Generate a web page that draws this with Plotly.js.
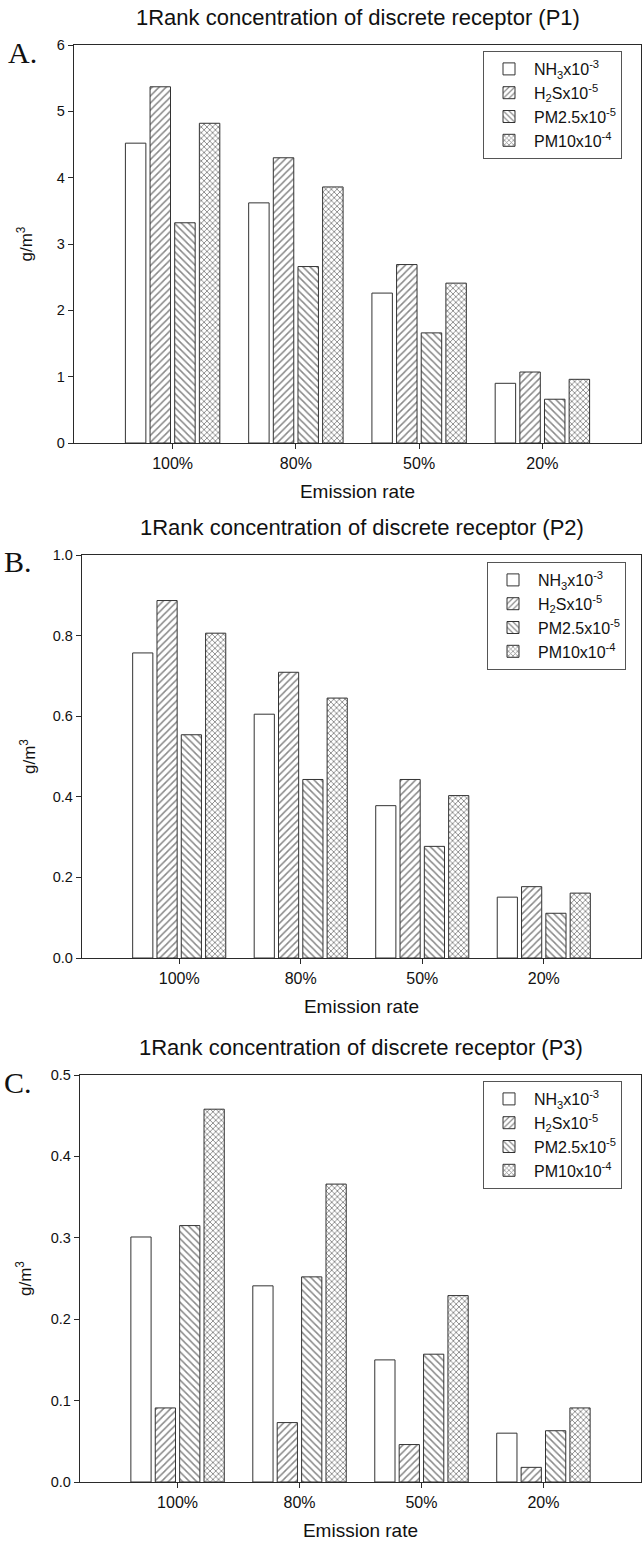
<!DOCTYPE html>
<html>
<head>
<meta charset="utf-8">
<script src="https://cdn.plot.ly/plotly-3.0.1.min.js"></script>
<style>html,body{margin:0;padding:0;background:#fff;}#chart{width:642px;height:1549px;}</style>
</head>
<body>
<div id="chart"></div>
<script>
// ---- data ----
const categories = ['100%', '80%', '50%', '20%'];
const seriesNames = ['NH<sub>3</sub>x10<sup>-3</sup>', 'H<sub>2</sub>Sx10<sup>-5</sup>', 'PM2.5x10<sup>-5</sup>', 'PM10x10<sup>-4</sup>'];
const panelTitles = ['1Rank concentration of discrete receptor (P1)', '1Rank concentration of discrete receptor (P2)', '1Rank concentration of discrete receptor (P3)'];
const panelLetters = ['A.', 'B.', 'C.'];

const p1NH3  = [4.52, 3.62, 2.26, 0.90];
const p1H2S  = [5.37, 4.30, 2.69, 1.07];
const p1PM25 = [3.32, 2.66, 1.66, 0.66];
const p1PM10 = [4.82, 3.86, 2.41, 0.96];

const p2NH3  = [0.757, 0.605, 0.378, 0.151];
const p2H2S  = [0.887, 0.709, 0.443, 0.177];
const p2PM25 = [0.554, 0.443, 0.277, 0.111];
const p2PM10 = [0.806, 0.645, 0.403, 0.161];

const p3NH3  = [0.301, 0.241, 0.150, 0.060];
const p3H2S  = [0.091, 0.073, 0.046, 0.018];
const p3PM25 = [0.315, 0.252, 0.157, 0.063];
const p3PM10 = [0.458, 0.366, 0.229, 0.091];

const panelData = [
  [p1NH3, p1H2S, p1PM25, p1PM10],
  [p2NH3, p2H2S, p2PM25, p2PM10],
  [p3NH3, p3H2S, p3PM25, p3PM10]
];

// ---- styling ----
const W = 642, H = 1549;
const FONT = '"Liberation Sans", Arial, Helvetica, sans-serif';
const SERIF = '"Liberation Serif", "Times New Roman", serif';
const patterns = ['', '/', '\\', 'x'];
const patSizes = [6, 5, 5, 4];
const patSolid = [0.2, 0.3, 0.3, 0.4];
const lineCol = '#2a2a2a';

// plot boxes in pixels [left, right, top, bottom]
const boxes = [
  [74, 641, 45, 443],
  [82, 641, 555, 958],
  [80, 641, 1075, 1482]
];
const yRanges = [[0, 6], [0, 1], [0, 0.5]];
const yDticks = [1, 0.2, 0.1];
const yFormats = ['d', '.1f', '.1f'];
const yStandoff = [19, 12, 14];
const legendPos = [[483, 51], [487, 562], [483, 1081]];

const traces = [];
panelData.forEach((series, p) => {
  const sfx = p === 0 ? '' : String(p + 1);
  series.forEach((vals, s) => {
    traces.push({
      type: 'bar',
      x: categories,
      y: vals,
      name: seriesNames[s],
      xaxis: 'x' + sfx,
      yaxis: 'y' + sfx,
      legend: 'legend' + sfx,
      marker: {
        color: '#ffffff',
        line: {color: '#333333', width: 1},
        pattern: {shape: patterns[s], fgcolor: '#111', bgcolor: '#ffffff', size: patSizes[s], solidity: patSolid[s], fillmode: 'overlay'}
      },
      hoverinfo: 'x+y'
    });
  });
});

const layout = {
  width: W, height: H,
  margin: {l: 0, r: 0, t: 0, b: 0},
  paper_bgcolor: '#ffffff', plot_bgcolor: '#ffffff',
  font: {family: FONT, color: '#111', size: 14},
  barmode: 'group', bargap: 0.2, bargroupgap: 0.17,
  annotations: []
};

boxes.forEach((b, p) => {
  const sfx = p === 0 ? '' : String(p + 1);
  const xd = [b[0] / W, b[1] / W];
  const yd = [1 - b[3] / H, 1 - b[2] / H];
  layout['xaxis' + sfx] = {
    domain: xd, anchor: 'y' + sfx, type: 'category', range: [-0.8, 3.8],
    showline: true, mirror: true, linecolor: lineCol, linewidth: 1.3,
    ticks: 'outside', ticklen: 5, tickcolor: lineCol, showgrid: false, zeroline: false,
    tickfont: {size: 16, family: FONT, color: '#111'},
    title: {text: 'Emission rate', font: {size: 19, family: FONT, color: '#111'}, standoff: 14},
    automargin: false, fixedrange: true
  };
  layout['yaxis' + sfx] = {
    domain: yd, anchor: 'x' + sfx, range: yRanges[p], dtick: yDticks[p], tick0: 0, tickformat: yFormats[p],
    showline: true, mirror: true, linecolor: lineCol, linewidth: 1.3,
    ticks: 'outside', ticklen: 5, tickcolor: lineCol, showgrid: false, zeroline: false,
    tickfont: {size: 14.5, family: FONT, color: '#111'},
    title: {text: 'g/m<sup>3</sup>', font: {size: 17, family: FONT, color: '#111'}, standoff: yStandoff[p]},
    automargin: false, fixedrange: true
  };
  const lp = legendPos[p];
  layout['legend' + sfx] = {
    x: lp[0] / W, y: 1 - lp[1] / H, xanchor: 'left', yanchor: 'top',
    bgcolor: '#ffffff', bordercolor: '#555', borderwidth: 1,
    font: {size: 16, family: FONT, color: '#111'},
    tracegroupgap: 0, itemwidth: 40
  };
  layout.annotations.push({
    xref: 'paper', yref: 'paper', x: (b[0] + b[1]) / 2 / W, y: 1 - (b[2] - 27.5) / H,
    xanchor: 'center', yanchor: 'middle', showarrow: false,
    text: panelTitles[p], font: {size: 22, family: FONT, color: '#111'}
  });
  layout.annotations.push({
    xref: 'paper', yref: 'paper', x: (p === 0 ? 6 : 2) / W, y: 1 - (b[2] + 7) / H,
    xanchor: 'left', yanchor: 'middle', showarrow: false,
    text: panelLetters[p], font: {size: 30, family: SERIF, color: '#111'}
  });
});

Plotly.newPlot('chart', traces, layout, {displayModeBar: false, staticPlot: true});
</script>
</body>
</html>
